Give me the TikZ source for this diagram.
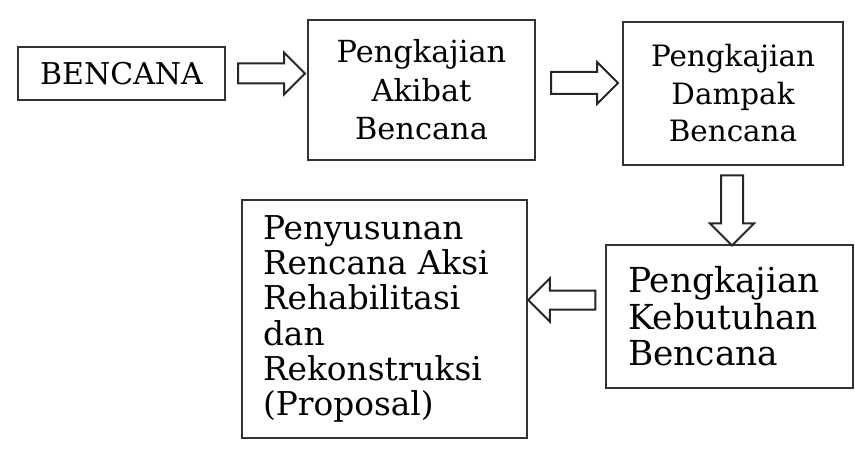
\documentclass[tikz,border=0pt]{standalone}
\usepackage{fontspec}
\setmainfont{DejaVu Serif}
\usetikzlibrary{shapes,arrows,positioning,calc}

\begin{document}
\begin{tikzpicture}[x=0.5pt, y=-0.5pt,
    box/.style={draw=black!80, line width=0.6pt, inner sep=0pt},
    blockarr/.style={single arrow, draw=black!85, line width=1pt, fill=white,
        inner sep=0pt, text depth=0pt, single arrow head indent=0pt}]

    % Frame
    \useasboundingbox (0,0) rectangle (855,454);

    % Boxes
    \node[box, minimum width=103.5pt, minimum height=26.5pt, font=\fontsize{15}{18}\selectfont] (bencana) at (121.5,73.5) {BENCANA};
    \node[box, minimum width=113.5pt, minimum height=70pt, align=center, font=\fontsize{15.2}{19.25}\selectfont] (akibat) at (421.5,90) {Pengkajian\\Akibat\\Bencana};
    \node[box, minimum width=110pt, minimum height=71.5pt, align=center, font=\fontsize{14.7}{18.75}\selectfont] (dampak) at (733,93.5) {Pengkajian\\Dampak\\Bencana};
    \node[box, minimum height=71.5pt, inner xsep=11pt, text width=101.5pt, align=left, font=\fontsize{17.2}{18.3}\selectfont] (kebutuhan) at (729.5,316.5) {Pengkajian\\Kebutuhan\\Bencana};
    \node[box, minimum height=119pt, inner xsep=10.5pt, text width=121.5pt, align=left, font=\fontsize{16.4}{17.6}\selectfont] (proposal) at (384.5,319) {Penyusunan\\Rencana Aksi\\Rehabilitasi\\dan\\Rekonstruksi\\(Proposal)};

    % Hollow arrows between the boxes
    \node[blockarr, text height=9pt, minimum height=33.5pt, single arrow head extend=5.5pt] (arr1) at ($(bencana.east)!0.5!(bencana.east -| akibat.west)$) {};
    \node[blockarr, text height=10pt, minimum height=33.5pt, single arrow head extend=5pt] (arr2) at ($(akibat.east |- 0,83)!0.5!(dampak.west |- 0,83)$) {};
    \node[blockarr, text height=10pt, minimum height=35pt, single arrow head extend=5.5pt, rotate=-90] (arr3) at ($(dampak.south -| 732,0)!0.5!(kebutuhan.north -| 732,0)$) {};
    \node[blockarr, text height=8.5pt, minimum height=33.5pt, single arrow head extend=6pt, rotate=180] (arr4) at ($(proposal.east |- 0,300)!0.5!(kebutuhan.west |- 0,300)$) {};

\end{tikzpicture}
\end{document}
